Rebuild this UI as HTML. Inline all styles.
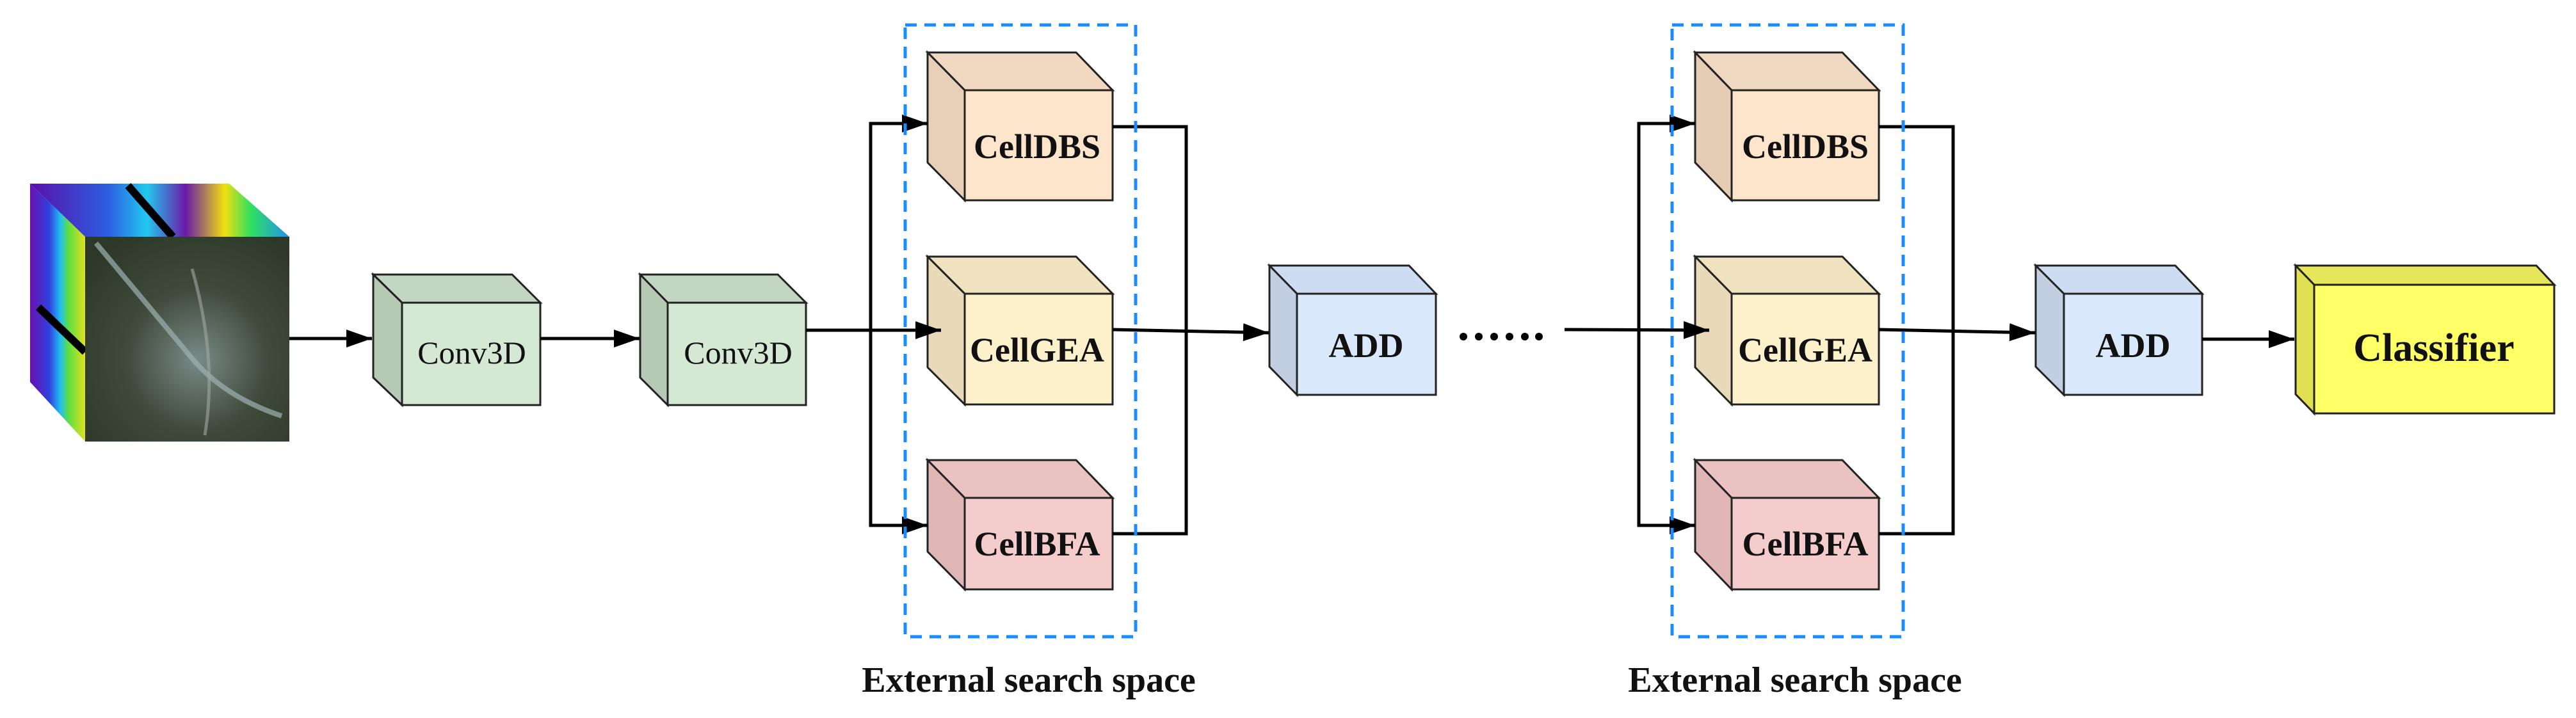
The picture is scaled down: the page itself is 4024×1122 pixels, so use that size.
<!DOCTYPE html>
<html><head><meta charset="utf-8"><style>
html,body{margin:0;padding:0;background:#fff;}
svg{display:block;}
.t{font-family:"Liberation Serif",serif;font-weight:bold;fill:#111;}
</style></head><body>
<svg width="4024" height="1122" viewBox="0 0 4024 1122" xmlns="http://www.w3.org/2000/svg">
<defs>
<marker id="ah" markerWidth="40" markerHeight="28" refX="10" refY="5" orient="auto" markerUnits="userSpaceOnUse" viewBox="0 0 10 10" preserveAspectRatio="none">
<path d="M0,0 L10,5 L0,10 z" fill="#000"/>
</marker>
<linearGradient id="topg" x1="0" y1="0" x2="1" y2="0">
<stop offset="0" stop-color="#5a0fa8"/><stop offset="0.3" stop-color="#2c5de0"/><stop offset="0.45" stop-color="#22c8f0"/><stop offset="0.6" stop-color="#6a1aa8"/><stop offset="0.75" stop-color="#f0e010"/><stop offset="0.85" stop-color="#30e060"/><stop offset="1" stop-color="#2090f0"/>
</linearGradient>
<linearGradient id="sideg" x1="0" y1="0" x2="1" y2="0">
<stop offset="0" stop-color="#6a10b0"/><stop offset="0.35" stop-color="#3040e0"/><stop offset="0.55" stop-color="#20c0f0"/><stop offset="0.7" stop-color="#60e040"/><stop offset="1" stop-color="#e0e020"/>
</linearGradient>
<radialGradient id="img" cx="0.55" cy="0.6" r="0.7">
<stop offset="0" stop-color="#7a8a88"/><stop offset="0.5" stop-color="#3e4a3a"/><stop offset="1" stop-color="#2c3828"/>
</radialGradient>
</defs>

<!-- hyperspectral cube -->
<polygon points="47,287 358,287 452,370 133,370" fill="url(#topg)"/>
<polygon points="47,287 133,370 133,690 47,597" fill="url(#sideg)"/>
<line x1="60" y1="480" x2="133" y2="550" stroke="#000" stroke-width="12"/>
<line x1="200" y1="290" x2="270" y2="370" stroke="#000" stroke-width="12"/>
<rect x="133" y="370" width="319" height="320" fill="url(#img)"/>
<path d="M150,380 Q250,500 300,560 T440,650" stroke="#9fb0b0" stroke-width="8" fill="none" opacity="0.7"/>
<path d="M300,420 Q340,560 320,680" stroke="#a0a8a0" stroke-width="5" fill="none" opacity="0.6"/>

<!-- Conv3D 1 -->
<g stroke="#222" stroke-width="3">
<polygon points="583,429 800,429 844,473 628,473" fill="#c3d6c2"/>
<polygon points="583,429 628,473 628,633 583,590" fill="#b6c9b5"/>
<rect x="628" y="473" width="216" height="160" fill="#d5e8d4"/>
</g>
<text x="737" y="568" font-family="Liberation Serif,serif" font-size="50" text-anchor="middle" fill="#111">Conv3D</text>
<!-- Conv3D 2 -->
<g stroke="#222" stroke-width="3">
<polygon points="1000,429 1215,429 1259,473 1043,473" fill="#c3d6c2"/>
<polygon points="1000,429 1043,473 1043,633 1000,590" fill="#b6c9b5"/>
<rect x="1043" y="473" width="216" height="160" fill="#d5e8d4"/>
</g>
<text x="1153" y="568" font-family="Liberation Serif,serif" font-size="50" text-anchor="middle" fill="#111">Conv3D</text>

<!-- group 1 cells -->
<g stroke="#222" stroke-width="3">
<polygon points="1449,82 1681,82 1738,141 1507,141" fill="#f0d9c0"/>
<polygon points="1449,82 1507,141 1507,313 1449,254" fill="#e8cfb8"/>
<rect x="1507" y="141" width="231" height="172" fill="#fde5cc"/>
<polygon points="1449,401 1681,401 1738,459 1507,459" fill="#f0e2bf"/>
<polygon points="1449,401 1507,459 1507,632 1449,574" fill="#e8dab8"/>
<rect x="1507" y="459" width="231" height="173" fill="#fdf1cc"/>
<polygon points="1449,719 1681,719 1738,778 1507,778" fill="#ebc2c2"/>
<polygon points="1449,719 1507,778 1507,921 1449,862" fill="#dfb5b5"/>
<rect x="1507" y="778" width="231" height="143" fill="#f5cccc"/>
<!-- ADD 1 -->
<polygon points="1983,415 2201,415 2243,459 2026,459" fill="#cddcf0"/>
<polygon points="1983,415 2026,459 2026,617 1983,573" fill="#c2cfe2"/>
<rect x="2026" y="459" width="217" height="158" fill="#dae8fc"/>
</g>
<!-- group 2 cells -->
<g stroke="#222" stroke-width="3">
<polygon points="2648,82 2878,82 2935,141 2705,141" fill="#efd8c0"/>
<polygon points="2648,82 2705,141 2705,313 2648,254" fill="#e5ccb4"/>
<rect x="2705" y="141" width="230" height="172" fill="#fde5cc"/>
<polygon points="2648,401 2878,401 2935,459 2705,459" fill="#f0e2bf"/>
<polygon points="2648,401 2705,459 2705,632 2648,574" fill="#e8dab8"/>
<rect x="2705" y="459" width="230" height="173" fill="#fdf1cc"/>
<polygon points="2648,719 2878,719 2935,778 2705,778" fill="#ebc2c2"/>
<polygon points="2648,719 2705,778 2705,921 2648,862" fill="#dfb5b5"/>
<rect x="2705" y="778" width="230" height="143" fill="#f5cccc"/>
<!-- ADD 2 -->
<polygon points="3180,415 3398,415 3440,459 3224,459" fill="#cddcf0"/>
<polygon points="3180,415 3224,459 3224,617 3180,573" fill="#c2cfe2"/>
<rect x="3224" y="459" width="216" height="158" fill="#dae8fc"/>
<!-- Classifier -->
<polygon points="3586,415 3962,415 3990,445 3615,445" fill="#e6e65a"/>
<polygon points="3586,415 3615,445 3615,646 3586,616" fill="#e0e050"/>
<rect x="3615" y="445" width="375" height="201" fill="#ffff66"/>
</g>

<g stroke="#000" stroke-width="5" fill="none">
<line x1="452" y1="529" x2="581" y2="529" marker-end="url(#ah)"/>
<line x1="844" y1="529" x2="999" y2="529" marker-end="url(#ah)"/>
<!-- group 1 -->
<line x1="1259" y1="516" x2="1470" y2="516" marker-end="url(#ah)"/>
<polyline points="1400,193 1360,193 1360,821 1400,821"/>
<line x1="1395" y1="193" x2="1449" y2="193" marker-end="url(#ah)"/>
<line x1="1395" y1="821" x2="1449" y2="821" marker-end="url(#ah)"/>
<polyline points="1738,198 1853,198 1853,834 1738,834"/>
<line x1="1738" y1="515" x2="1982" y2="520" marker-end="url(#ah)"/>
<!-- group 2 -->
<line x1="2444" y1="515" x2="2670" y2="516" marker-end="url(#ah)"/>
<polyline points="2600,193 2560,193 2560,821 2600,821"/>
<line x1="2595" y1="193" x2="2648" y2="193" marker-end="url(#ah)"/>
<line x1="2595" y1="821" x2="2648" y2="821" marker-end="url(#ah)"/>
<polyline points="2935,198 3051,198 3051,834 2935,834"/>
<line x1="2935" y1="515" x2="3179" y2="520" marker-end="url(#ah)"/>
<line x1="3440" y1="530" x2="3584" y2="530" marker-end="url(#ah)"/>
</g>

<!-- dashed boxes -->
<rect x="1414" y="39" width="360" height="956" fill="none" stroke="#1a8cff" stroke-width="5" stroke-dasharray="18,12"/>
<rect x="2612" y="39" width="361" height="956" fill="none" stroke="#1a8cff" stroke-width="5" stroke-dasharray="18,12"/>

<!-- dots -->
<g fill="#000">
<circle cx="2286" cy="526" r="6"/><circle cx="2310" cy="526" r="6"/><circle cx="2334" cy="526" r="6"/><circle cx="2358" cy="526" r="6"/><circle cx="2382" cy="526" r="6"/><circle cx="2404" cy="526" r="6"/>
</g>

<!-- labels -->
<g class="t" font-size="54" text-anchor="middle">
<text x="1620" y="247">CellDBS</text>
<text x="1620" y="565">CellGEA</text>
<text x="1620" y="868">CellBFA</text>
<text x="2820" y="247">CellDBS</text>
<text x="2820" y="565">CellGEA</text>
<text x="2820" y="868">CellBFA</text>
<text x="2134" y="558">ADD</text>
<text x="3332" y="558">ADD</text>
<text x="3802" y="564" font-size="62">Classifier</text>
<text x="1607" y="1081" font-size="56">External search space</text>
<text x="2804" y="1081" font-size="56">External search space</text>
</g>
</svg>
</body></html>
